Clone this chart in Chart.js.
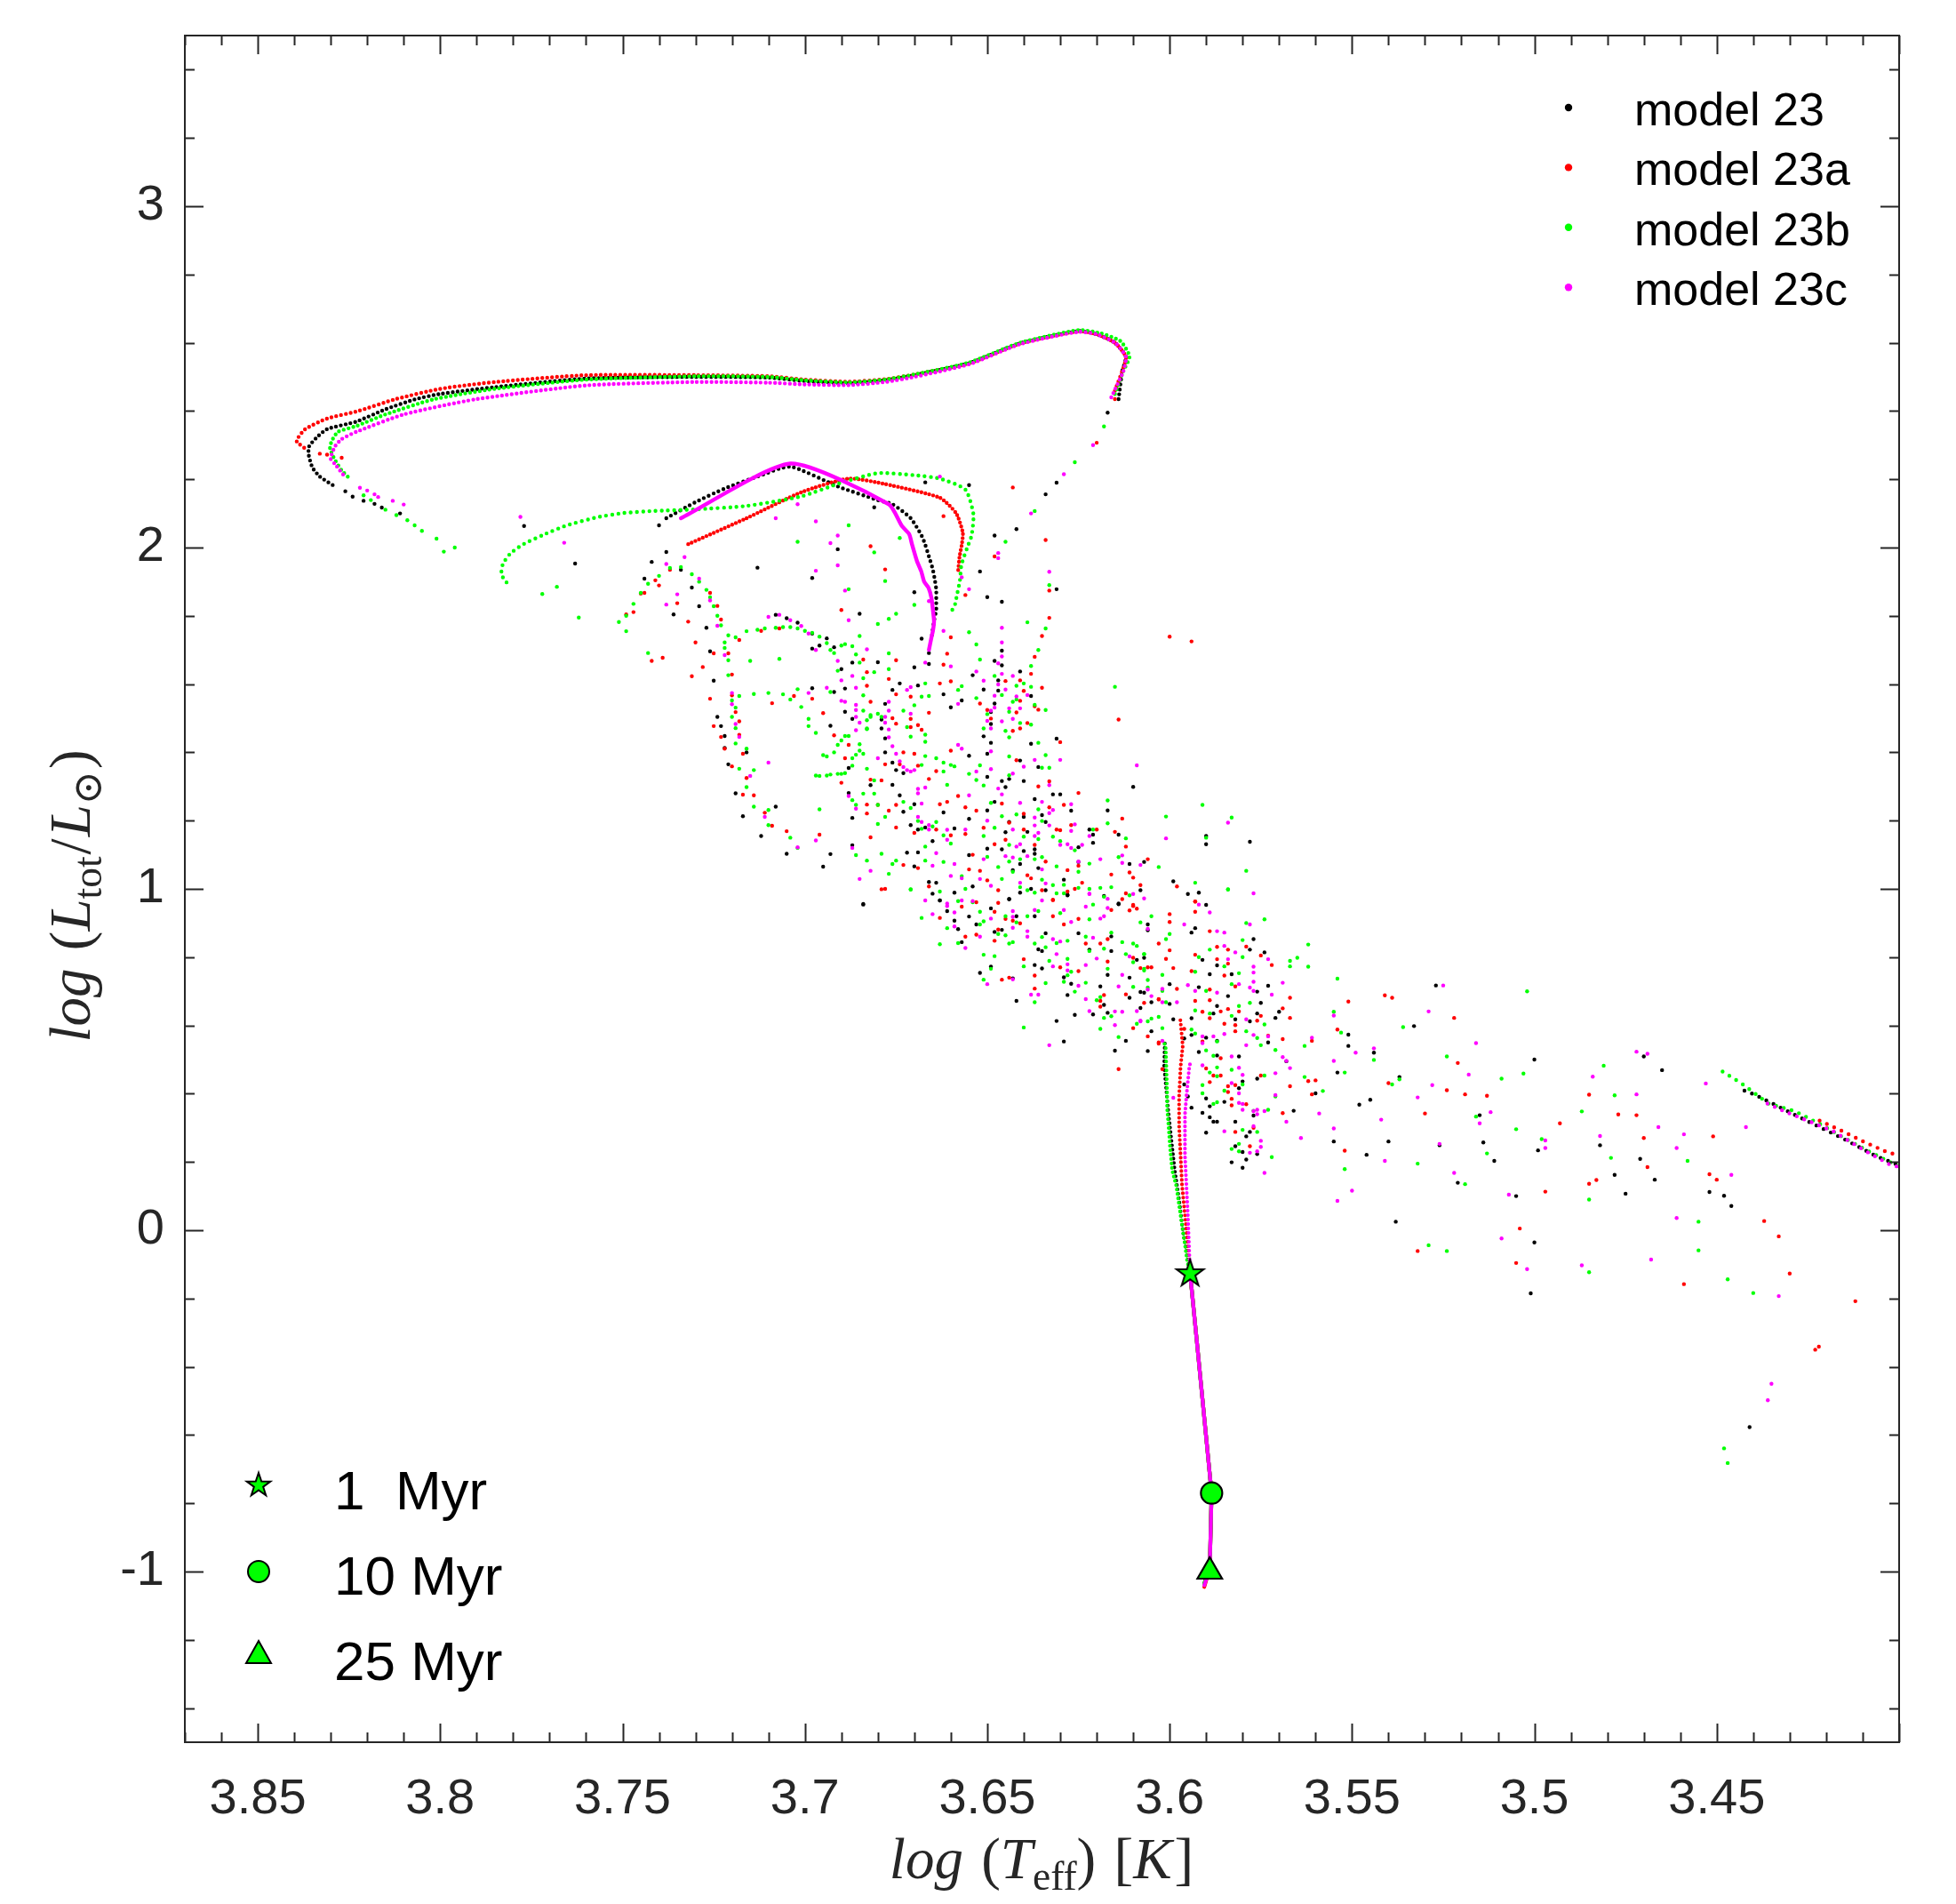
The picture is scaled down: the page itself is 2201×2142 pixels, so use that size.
<!DOCTYPE html>
<html>
<head>
<meta charset="utf-8">
<script src="https://cdn.jsdelivr.net/npm/chart.js@4.4.1/dist/chart.umd.min.js"></script>
<style>
  body { margin: 0; background: #fff; }
  #wrap { width: 2201px; height: 2142px; }
</style>
</head>
<body>
<div id="wrap"><canvas id="hrChart" width="2201" height="2142"></canvas></div>
<script>
var modelNames = ['model 23', 'model 23a', 'model 23b', 'model 23c'];
var modelColors = ['#000000', '#ff0000', '#00ff00', '#ff00ff'];

var xTickValues = [3.45, 3.5, 3.55, 3.6, 3.65, 3.7, 3.75, 3.8, 3.85];
var xTickLabels = ['3.45', '3.5', '3.55', '3.6', '3.65', '3.7', '3.75', '3.8', '3.85'];
var yTickValues = [-1, 0, 1, 2, 3];
var yTickLabels = ['-1', '0', '1', '2', '3'];

var ageLabels = ['1  Myr', '10 Myr', '25 Myr'];
var ageX = [3.5944, 3.5885, 3.589];
var ageY = [-0.125, -0.77, -1.0];

// model 23
var m23Loop = [[3.614,2.435],[3.613,2.517],[3.612,2.559],[3.615,2.600],[3.620,2.625],[3.625,2.634],[3.641,2.598],[3.655,2.540],[3.670,2.505],[3.678,2.490],[3.688,2.481],[3.700,2.488],[3.710,2.498],[3.730,2.500],[3.760,2.495],[3.785,2.470],[3.800,2.450],[3.807,2.434],[3.815,2.405],[3.823,2.369],[3.831,2.347],[3.834,2.321],[3.836,2.295],[3.836,2.269],[3.835,2.234],[3.833,2.208],[3.829,2.180]];
var m23Tent = [[3.738,2.086],[3.730,2.133],[3.722,2.173],[3.713,2.208],[3.704,2.237],[3.691,2.179],[3.680,2.139],[3.676,2.127],[3.671,2.086],[3.668,2.035],[3.667,2.008],[3.666,1.974],[3.665,1.939],[3.6645,1.913],[3.664,1.878],[3.664,1.843],[3.664,1.817],[3.6645,1.791],[3.665,1.756],[3.6653,1.730]];
var m23Pms = [[3.5905,-1.035],[3.589,-0.99],[3.5885,-0.77],[3.5905,-0.55],[3.5925,-0.33],[3.5944,-0.125],[3.5964,0.001],[3.5974,0.088],[3.5986,0.175],[3.5995,0.262],[3.6003,0.340],[3.6009,0.409],[3.6015,0.479],[3.6013,0.557]];
var m23Tail = [[3.4424,0.409],[3.4395,0.397],[3.4284,0.337],[3.4151,0.267],[3.4063,0.217],[3.400,0.190]];
var m23Dots = [[3.617,2.395],[3.631,2.19],[3.826,2.165],[3.824,2.149],[3.821,2.137],[3.818,2.128],[3.816,2.117],[3.811,2.10],[3.777,2.063],[3.763,1.953],[3.740,2.065],[3.681,2.118],[3.667,2.191],[3.655,2.183],[3.634,2.156],[3.642,2.054],
[3.738,1.987],[3.742,1.958],[3.744,1.909],[3.734,1.935],[3.731,1.883],[3.736,1.804],[3.729,1.828],[3.727,1.765],[3.713,1.941],[3.698,1.911],[3.691,1.995],[3.685,1.806],[3.708,1.803],[3.705,1.793],[3.702,1.78],[3.698,1.748],[3.698,1.704],[3.696,1.713],[3.694,1.734],[3.692,1.708],[3.687,1.663],[3.690,1.644],[3.680,1.664],[3.670,1.649],[3.668,1.733],[3.670,1.869],[3.666,1.691],[3.666,1.659],[3.654,1.626],[3.655,1.390],[3.660,1.532],[3.657,1.552],[3.662,1.570],[3.669,1.596],[3.674,1.602],[3.676,1.583],[3.678,1.542],[3.679,1.496],[3.679,1.470],[3.678,1.441],[3.678,1.400],[3.676,1.370],[3.675,1.348],[3.673,1.339],[3.674,1.274],[3.673,1.226],[3.670,1.248],[3.671,1.187],[3.669,1.174],[3.665,1.140],[3.662,1.224],[3.659,1.177],[3.655,1.205],[3.655,1.099],[3.672,1.106],[3.669,1.107],[3.670,1.066],[3.666,1.020],[3.664,1.018],[3.663,0.966],[3.659,0.989],[3.654,1.007],[3.684,0.956],[3.687,1.208],[3.687,1.128],[3.693,1.102],[3.695,1.065],[3.712,1.155],[3.705,1.103],[3.708,1.241],[3.717,1.213],[3.719,1.280],[3.716,1.400],[3.722,1.413],[3.721,1.365],[3.725,1.610],[3.724,1.504],[3.723,1.477],[3.722,1.448],[3.726,1.696],[3.693,1.478],[3.687,1.498],[3.689,1.519],[3.689,1.587],[3.692,1.577],[3.698,1.588],[3.688,1.354],[3.688,1.281],[3.682,1.304],[3.676,1.305],[3.667,1.180],
[3.648,2.035],[3.652,1.930],[3.650,1.855],[3.646,1.841],[3.631,1.878],[3.646,1.698],[3.648,1.668],[3.646,1.655],[3.641,1.637],[3.647,1.611],[3.651,1.584],[3.647,1.581],[3.638,1.565],[3.648,1.543],[3.649,1.518],[3.649,1.483],[3.651,1.447],[3.649,1.428],[3.638,1.425],[3.631,1.440],[3.650,1.396],[3.641,1.376],[3.636,1.357],[3.650,1.328],[3.646,1.316],[3.644,1.322],[3.645,1.298],[3.640,1.316],[3.632,1.277],[3.630,1.277],[3.637,1.263],[3.648,1.255],[3.650,1.230],[3.640,1.211],[3.635,1.216],[3.634,1.196],[3.644,1.196],[3.639,1.167],[3.645,1.166],[3.637,1.116],[3.637,1.103],[3.640,1.111],[3.646,1.116],[3.650,1.118],[3.641,1.073],[3.643,1.055],[3.636,1.061],[3.629,1.027],[3.638,1.000],[3.641,0.989],[3.634,0.996],[3.644,0.970],[3.628,0.981],[3.627,1.229],[3.622,1.174],[3.621,1.135],[3.621,1.159],[3.614,1.159],[3.617,1.230],[3.625,1.122],[3.625,1.079],[3.611,1.073],[3.607,1.079],[3.610,1.299],[3.614,0.957],[3.608,0.996],[3.599,1.022],[3.590,1.155],[3.590,1.131],[3.578,1.138],
[3.684,0.954],[3.665,0.986],[3.663,0.966],[3.661,0.935],[3.659,0.907],[3.658,0.882],[3.655,0.919],[3.657,0.844],[3.653,0.896],[3.649,0.943],[3.649,0.772],[3.652,0.754],[3.648,0.874],[3.646,0.880],[3.644,0.970],[3.642,0.920],[3.643,0.738],[3.642,0.672],[3.637,0.920],[3.636,0.823],[3.635,0.818],[3.637,0.777],[3.635,0.767],[3.634,0.870],[3.629,0.741],[3.628,0.689],[3.631,0.613],[3.629,0.553],[3.627,0.722],[3.626,0.631],[3.628,0.983],[3.625,0.870],[3.622,0.822],[3.621,0.632],[3.619,0.714],[3.617,0.637],[3.618,0.660],[3.617,0.748],[3.616,0.818],[3.616,0.861],[3.614,0.955],[3.611,0.740],[3.611,0.681],[3.612,0.555],[3.615,0.526],[3.609,0.792],[3.608,0.651],[3.607,0.798],[3.608,0.698],[3.618,0.979],
[3.595,0.985],[3.592,0.989],[3.590,0.953],[3.606,0.896],[3.606,0.879],[3.594,0.872],[3.593,0.885],[3.591,0.792],[3.589,0.750],[3.587,0.776],[3.583,0.750],[3.577,0.853],[3.578,0.822],[3.574,0.814],[3.600,0.721],[3.607,0.696],[3.605,0.668],[3.600,0.663],[3.592,0.712],[3.584,0.686],[3.576,0.699],[3.575,0.666],[3.573,0.716],[3.587,0.657],[3.599,0.618],[3.594,0.621],[3.588,0.635],[3.582,0.618],[3.578,0.612],[3.576,0.635],[3.571,0.622],[3.570,0.640],[3.605,0.583],[3.594,0.572],[3.596,0.562],[3.590,0.564],[3.587,0.555],[3.573,0.550],[3.606,0.525],[3.592,0.522],[3.587,0.512],[3.581,0.509],[3.568,0.495],[3.551,0.573],[3.551,0.540],[3.544,0.520],[3.537,0.449],[3.554,0.462],[3.560,0.401],[3.548,0.368],[3.545,0.382],[3.566,0.350],[3.555,0.260],[3.546,0.221],[3.540,0.260],[3.538,0.025],[3.596,0.427],[3.595,0.392],[3.594,0.359],[3.591,0.344],[3.590,0.386],[3.589,0.363],[3.589,0.331],[3.588,0.318],[3.587,0.318],[3.590,0.286],[3.585,0.376],[3.582,0.318],[3.581,0.416],[3.580,0.436],[3.577,0.336],[3.578,0.288],[3.579,0.275],[3.582,0.246],[3.580,0.229],[3.576,0.223],[3.579,0.207],[3.580,0.183],[3.583,0.199],[3.576,0.444],
[3.527,0.717],[3.533,0.598],[3.500,0.500],[3.470,0.509],[3.465,0.469],[3.515,0.337],[3.514,0.257],[3.511,0.203],[3.521,0.139],[3.526,0.249],[3.499,0.234],[3.505,0.100],[3.500,-0.036],[3.501,-0.185],[3.482,0.249],[3.478,0.162],[3.475,0.107],[3.471,0.209],[3.467,0.148],[3.452,0.112],[3.448,0.101],[3.446,0.071],[3.441,-0.577]];

// model 23a
var m23aLoop = [[3.615,2.460],[3.613,2.517],[3.612,2.559],[3.615,2.600],[3.620,2.625],[3.625,2.634],[3.641,2.598],[3.655,2.540],[3.670,2.507],[3.678,2.493],[3.688,2.486],[3.700,2.492],[3.710,2.502],[3.730,2.505],[3.760,2.505],[3.785,2.485],[3.800,2.465],[3.8125,2.434],[3.8225,2.400],[3.831,2.378],[3.837,2.347],[3.839,2.321],[3.8393,2.310],[3.837,2.290]];
var m23aTent = [[3.732,2.010],[3.716,2.086],[3.701,2.162],[3.688,2.202],[3.678,2.186],[3.663,2.146],[3.6585,2.100],[3.6567,2.043],[3.657,2.008],[3.6576,1.974],[3.658,1.930]];
var m23aPms = [[3.5905,-1.045],[3.589,-0.99],[3.5885,-0.77],[3.5905,-0.55],[3.5925,-0.33],[3.5944,-0.125],[3.595,-0.043],[3.5958,0.044],[3.5966,0.131],[3.597,0.218],[3.5974,0.305],[3.5974,0.392],[3.597,0.479],[3.5964,0.540],[3.5971,0.620]];
var m23aTail = [[3.4218,0.321],[3.4159,0.292],[3.410,0.261],[3.404,0.232],[3.400,0.218]];
var m23aDots = [[3.620,2.307],[3.615,2.435],[3.833,2.275],[3.831,2.272],[3.827,2.263],[3.662,2.092],[3.643,2.176],
[3.737,1.935],[3.740,1.889],[3.741,1.904],[3.744,1.867],[3.745,1.865],[3.749,1.804],[3.747,1.811],[3.735,1.837],[3.732,1.783],[3.726,1.867],[3.724,1.829],[3.723,1.789],[3.730,1.722],[3.725,1.690],[3.721,1.690],[3.718,1.729],[3.728,1.650],[3.731,1.623],[3.720,1.628],[3.742,1.668],[3.739,1.677],[3.726,1.557],[3.720,1.567],[3.719,1.518],[3.718,1.491],[3.725,1.477],[3.723,1.445],[3.718,1.451],[3.722,1.411],[3.717,1.396],[3.720,1.359],[3.716,1.325],[3.717,1.276],[3.714,1.274],[3.711,1.223],[3.709,1.185],[3.705,1.169],[3.696,1.159],[3.712,1.756],[3.707,1.763],[3.703,1.565],[3.698,1.557],[3.709,1.544],[3.695,1.515],[3.692,1.450],[3.689,1.383],[3.690,1.311],[3.688,1.422],[3.684,1.672],[3.683,1.635],[3.683,1.595],[3.682,1.548],[3.678,1.936],[3.682,2.004],[3.690,1.817],[3.677,1.615],[3.675,1.570],[3.676,1.500],[3.675,1.484],[3.671,1.498],[3.671,1.474],[3.669,1.480],[3.668,1.466],[3.666,1.516],[3.671,1.563],[3.663,1.602],[3.662,1.657],[3.675,1.670],[3.660,1.608],[3.656,1.861],[3.660,1.737],[3.661,1.689],[3.660,1.405],[3.664,1.345],[3.669,1.361],[3.670,1.396],[3.673,1.400],[3.674,1.365],[3.678,1.365],[3.679,1.318],[3.682,1.320],[3.677,1.229],[3.680,1.246],[3.683,1.247],[3.683,1.221],[3.675,1.246],[3.666,1.322],[3.663,1.248],[3.661,1.255],[3.658,1.272],[3.656,1.239],[3.653,1.229],[3.656,1.161],[3.660,1.157],[3.664,1.174],[3.670,1.164],[3.675,1.180],[3.673,1.070],[3.669,1.061],[3.655,1.057],[3.654,1.100],[3.666,1.007],[3.678,1.000],[3.682,1.151],
[3.634,2.022],[3.648,1.974],[3.633,1.874],[3.633,1.794],[3.635,1.741],[3.637,1.680],[3.638,1.630],[3.645,1.609],[3.641,1.611],[3.640,1.580],[3.635,1.589],[3.652,1.543],[3.650,1.524],[3.649,1.499],[3.641,1.551],[3.642,1.517],[3.637,1.535],[3.636,1.525],[3.639,1.486],[3.641,1.470],[3.643,1.463],[3.630,1.430],[3.642,1.377],[3.636,1.300],[3.633,1.315],[3.600,1.739],[3.594,1.725],[3.614,1.496],[3.625,1.281],[3.629,1.246],[3.633,1.239],[3.640,1.220],[3.646,1.250],[3.644,1.194],[3.651,1.179],[3.640,1.174],[3.645,1.144],[3.648,1.131],[3.637,1.129],[3.631,1.174],[3.630,1.172],[3.627,1.187],[3.620,1.174],[3.615,1.167],[3.613,1.206],[3.612,1.124],[3.606,1.087],[3.625,1.068],[3.634,1.080],[3.628,1.055],[3.616,1.042],[3.611,1.048],[3.610,1.033],[3.608,1.011],[3.612,0.987],[3.639,1.040],[3.638,1.031],[3.650,1.025],[3.652,1.053],[3.647,0.996],[3.647,0.959],[3.628,0.992],[3.626,1.000],[3.624,1.018],[3.632,0.968],[3.598,1.007],[3.593,0.963],[3.610,0.953],
[3.679,0.999],[3.663,0.915],[3.657,0.948],[3.656,0.860],[3.653,0.866],[3.653,0.961],[3.648,0.848],[3.648,0.933],[3.647,0.881],[3.645,0.912],[3.643,0.907],[3.641,0.899],[3.640,0.794],[3.637,0.746],[3.637,0.708],[3.646,0.734],[3.644,0.740],[3.635,0.996],[3.632,0.967],[3.632,0.920],[3.629,0.896],[3.630,0.770],[3.625,0.912],[3.625,0.759],[3.623,0.840],[3.619,0.840],[3.618,0.689],[3.619,0.672],[3.619,0.655],[3.617,0.787],[3.617,0.853],[3.616,0.938],[3.613,0.970],[3.611,0.937],[3.610,0.950],[3.609,0.942],[3.610,0.798],[3.608,0.768],[3.606,0.770],[3.603,0.840],[3.612,0.691],[3.610,0.592],[3.607,0.666],[3.606,0.568],[3.603,0.550],[3.603,0.676],[3.614,0.472],[3.602,0.472],
[3.593,0.963],[3.593,0.933],[3.600,0.926],[3.600,0.903],[3.600,0.820],[3.601,0.795],[3.605,0.770],[3.599,0.768],[3.593,0.807],[3.594,0.759],[3.589,0.876],[3.587,0.794],[3.587,0.830],[3.584,0.822],[3.584,0.781],[3.585,0.746],[3.579,0.831],[3.575,0.805],[3.572,0.777],[3.582,0.714],[3.589,0.705],[3.598,0.707],[3.593,0.672],[3.589,0.674],[3.584,0.648],[3.581,0.641],[3.603,0.677],[3.596,0.590],[3.591,0.640],[3.586,0.641],[3.589,0.621],[3.585,0.605],[3.582,0.601],[3.582,0.583],[3.576,0.614],[3.575,0.628],[3.573,0.570],[3.569,0.560],[3.569,0.650],[3.567,0.681],[3.567,0.622],[3.603,0.547],[3.591,0.553],[3.586,0.504],[3.590,0.474],[3.588,0.453],[3.586,0.453],[3.584,0.422],[3.582,0.425],[3.584,0.405],[3.583,0.385],[3.583,0.366],[3.579,0.369],[3.582,0.288],[3.589,0.434],[3.575,0.453],[3.577,0.300],[3.578,0.246],[3.561,0.555],[3.562,0.437],[3.560,0.439],[3.561,0.398],[3.567,0.422],[3.569,0.343],[3.551,0.670],[3.554,0.588],[3.541,0.688],[3.539,0.681],[3.540,0.431],[3.552,0.233],
[3.522,0.622],[3.521,0.490],[3.524,0.410],[3.530,0.342],[3.519,0.398],[3.513,0.394],[3.485,0.397],[3.493,0.313],[3.477,0.339],[3.472,0.337],[3.470,0.270],[3.497,0.113],[3.504,0.005],[3.505,-0.096],[3.485,0.136],[3.483,0.147],[3.469,0.185],[3.459,-0.158],[3.451,0.275],[3.452,0.164],[3.450,0.148],[3.437,0.027],[3.433,-0.018],[3.430,-0.127],[3.412,-0.208],[3.423,-0.350],[3.422,-0.341],[3.532,-0.061]];

// model 23b
var m23bLoop = [[3.615,2.450],[3.6127,2.517],[3.611,2.560],[3.6135,2.605],[3.619,2.628],[3.625,2.637],[3.641,2.600],[3.655,2.542],[3.670,2.507],[3.678,2.492],[3.688,2.484],[3.700,2.490],[3.710,2.500],[3.730,2.502],[3.760,2.492],[3.785,2.465],[3.8019,2.434],[3.815,2.390],[3.823,2.356],[3.828,2.339],[3.8297,2.313],[3.8302,2.291],[3.829,2.260],[3.827,2.226],[3.8246,2.200]];
var m23bTent = [[3.7818,1.898],[3.7832,1.921],[3.7828,1.952],[3.7808,1.982],[3.7775,2.008],[3.7718,2.037],[3.7653,2.065],[3.7568,2.089],[3.7499,2.101],[3.7418,2.107],[3.730,2.112],[3.716,2.122],[3.701,2.150],[3.690,2.190],[3.680,2.218],[3.670,2.212],[3.663,2.202],[3.656,2.170],[3.6538,2.098],[3.6543,2.035],[3.6555,2.000],[3.6571,1.948],[3.6575,1.904],[3.6584,1.856],[3.6588,1.835],[3.660,1.809]];
var m23bPms = [[3.5905,-1.035],[3.589,-0.99],[3.5885,-0.77],[3.5905,-0.55],[3.5925,-0.33],[3.5944,-0.125],[3.5952,-0.090],[3.5958,-0.043],[3.597,0.044],[3.5982,0.131],[3.5993,0.175],[3.5999,0.244],[3.6003,0.305],[3.6007,0.357],[3.6007,0.409],[3.6009,0.479],[3.6011,0.540],[3.6015,0.548]];
var m23bTail = [[3.4484,0.465],[3.4432,0.430],[3.4358,0.371],[3.4284,0.348],[3.421,0.307],[3.415,0.270],[3.4085,0.232],[3.400,0.186]];
var m23bDots = [[3.618,2.355],[3.626,2.25],[3.821,2.153],[3.819,2.139],[3.815,2.111],[3.812,2.095],[3.809,2.08],[3.807,2.065],[3.805,2.049],[3.801,2.026],[3.799,1.988],[3.796,2.0],[3.772,1.864],[3.768,1.885],[3.762,1.795],[3.751,1.782],[3.688,2.065],[3.637,2.107],
[3.702,2.017],[3.681,1.986],[3.674,2.028],[3.678,1.902],[3.688,1.878],[3.675,1.806],[3.677,1.791],[3.680,1.776],[3.670,1.832],[3.655,1.752],[3.653,1.716],[3.653,1.559],[3.658,1.583],[3.657,1.594],[3.660,1.363],[3.659,1.359],[3.655,1.337],[3.653,1.319],[3.662,1.370],[3.662,1.344],[3.661,1.305],[3.664,1.383],[3.667,1.389],[3.668,1.363],[3.666,1.565],[3.667,1.602],[3.668,1.563],[3.670,1.538],[3.673,1.522],[3.672,1.474],[3.671,1.446],[3.667,1.452],[3.667,1.431],[3.677,1.644],[3.677,1.690],[3.681,1.635],[3.685,1.741],[3.684,1.617],[3.684,1.567],[3.684,1.522],[3.682,1.504],[3.683,1.470],[3.685,1.424],[3.684,1.396],[3.683,1.352],[3.681,1.318],[3.681,1.279],[3.684,1.279],[3.687,1.260],[3.686,1.246],[3.680,1.246],[3.680,1.190],[3.678,1.211],[3.673,1.255],[3.671,1.237],[3.669,1.199],[3.668,1.176],[3.665,1.183],[3.664,1.196],[3.662,1.157],[3.667,1.124],[3.660,1.133],[3.657,1.037],[3.662,1.079],[3.667,1.083],[3.675,1.083],[3.676,1.073],[3.679,1.103],[3.683,1.083],[3.686,1.099],[3.671,0.999],[3.656,1.000],[3.677,1.044],[3.696,1.233],[3.691,1.639],[3.693,1.577],[3.699,1.498],[3.699,1.477],[3.697,1.457],[3.701,1.533],[3.704,1.555],[3.702,1.585],[3.706,1.570],[3.710,1.574],[3.714,1.571],[3.718,1.565],[3.720,1.552],[3.719,1.531],[3.720,1.504],[3.719,1.471],[3.719,1.426],[3.718,1.352],[3.716,1.298],[3.714,1.241],[3.710,1.231],[3.710,1.187],[3.704,1.150],[3.702,1.120],[3.714,1.348],[3.716,1.411],
[3.719,1.737],[3.716,1.755],[3.713,1.759],[3.711,1.763],[3.708,1.765],[3.706,1.767],[3.704,1.767],[3.702,1.763],[3.700,1.756],[3.698,1.750],[3.696,1.739],[3.694,1.720],[3.693,1.700],[3.692,1.691],[3.690,1.713],[3.689,1.717],[3.687,1.711],[3.686,1.687],[3.685,1.663],
[3.721,1.743],[3.722,1.722],[3.722,1.706],[3.721,1.670],[3.721,1.626],[3.723,1.772],[3.724,1.800],[3.725,1.828],[3.726,1.854],[3.727,1.876],[3.729,1.900],[3.731,1.922],[3.734,1.943],[3.737,1.940],[3.740,1.917],[3.743,1.894],[3.745,1.867],[3.747,1.835],[3.749,1.800],[3.749,1.755],
[3.697,1.332],[3.696,1.331],[3.694,1.332],[3.693,1.335],[3.691,1.337],[3.690,1.337],[3.689,1.339],[3.687,1.361],[3.687,1.383],[3.686,1.393],[3.685,1.405],[3.695,1.392],[3.694,1.388],[3.692,1.400],[3.691,1.422],[3.690,1.435],[3.689,1.448],[3.688,1.448],[3.683,1.468],[3.683,1.494],[3.682,1.509],[3.680,1.513],[3.679,1.504],[3.707,1.674],[3.715,1.668],[3.743,1.691],
[3.645,2.017],[3.633,1.890],[3.639,1.781],[3.634,1.763],[3.636,1.700],[3.638,1.653],[3.652,1.672],[3.648,1.624],[3.642,1.595],[3.640,1.602],[3.638,1.592],[3.646,1.568],[3.643,1.548],[3.642,1.555],[3.644,1.519],[3.637,1.539],[3.634,1.524],[3.650,1.512],[3.651,1.470],[3.645,1.463],[3.644,1.444],[3.641,1.486],[3.638,1.481],[3.615,1.592],[3.636,1.428],[3.634,1.392],[3.644,1.388],[3.635,1.355],[3.633,1.355],[3.652,1.362],[3.644,1.333],[3.651,1.303],[3.649,1.252],[3.646,1.213],[3.642,1.218],[3.636,1.233],[3.635,1.199],[3.640,1.153],[3.636,1.146],[3.651,1.155],[3.648,1.179],[3.644,1.129],[3.650,1.094],[3.644,1.080],[3.641,1.087],[3.637,1.087],[3.635,1.093],[3.631,1.066],[3.630,1.140],[3.632,1.153],[3.626,1.113],[3.622,1.074],[3.625,1.050],[3.647,1.064],[3.643,1.050],[3.646,1.029],[3.641,1.005],[3.639,0.996],[3.637,0.989],[3.632,1.011],[3.635,1.027],[3.631,0.987],[3.629,1.012],[3.629,0.987],[3.625,1.003],[3.622,1.000],[3.619,1.003],[3.621,1.174],[3.617,1.192],[3.617,1.259],[3.612,1.148],[3.614,1.093],[3.616,1.005],[3.621,0.954],[3.618,0.977],[3.611,0.981],[3.603,1.064],[3.601,1.212],[3.591,1.246],[3.590,1.150],[3.593,1.018],[3.584,0.999],[3.583,1.209],[3.579,1.053],
[3.671,0.998],[3.668,0.915],[3.663,0.992],[3.663,0.838],[3.661,0.885],[3.658,0.964],[3.658,0.841],[3.654,0.961],[3.652,0.896],[3.651,0.905],[3.652,0.933],[3.651,0.807],[3.649,0.766],[3.648,0.803],[3.651,0.734],[3.647,0.868],[3.645,0.864],[3.645,0.920],[3.644,0.840],[3.643,0.844],[3.642,0.902],[3.640,0.773],[3.639,0.920],[3.637,0.840],[3.637,0.668],[3.636,0.935],[3.635,0.859],[3.634,0.829],[3.634,0.724],[3.633,0.789],[3.631,0.841],[3.630,0.929],[3.629,0.728],[3.628,0.795],[3.628,0.747],[3.628,0.848],[3.627,0.757],[3.626,0.699],[3.623,0.860],[3.623,0.725],[3.622,0.911],[3.622,0.818],[3.620,0.674],[3.619,0.590],[3.618,0.622],[3.618,0.825],[3.617,0.766],[3.616,0.627],[3.616,0.872],[3.614,0.566],[3.613,0.844],[3.612,0.809],[3.610,0.840],[3.610,0.713],[3.610,0.785],[3.609,0.833],[3.607,0.766],[3.607,0.809],[3.606,0.711],[3.606,0.612],[3.609,0.605],[3.619,0.683],[3.640,0.594],
[3.605,0.920],[3.608,0.902],[3.600,0.868],[3.601,0.853],[3.607,0.809],[3.607,0.761],[3.602,0.748],[3.606,0.733],[3.602,0.701],[3.601,0.668],[3.603,0.625],[3.605,0.620],[3.602,0.592],[3.593,0.757],[3.592,0.800],[3.589,0.822],[3.585,0.773],[3.584,0.998],[3.579,0.900],[3.580,0.800],[3.580,0.850],[3.574,0.911],[3.581,0.753],[3.583,0.721],[3.578,0.666],[3.581,0.657],[3.583,0.628],[3.590,0.701],[3.589,0.635],[3.593,0.644],[3.594,0.588],[3.593,0.576],[3.587,0.553],[3.579,0.583],[3.576,0.563],[3.574,0.603],[3.575,0.542],[3.571,0.528],[3.590,0.527],[3.588,0.511],[3.589,0.462],[3.587,0.477],[3.583,0.470],[3.587,0.451],[3.591,0.425],[3.591,0.401],[3.588,0.370],[3.587,0.375],[3.585,0.409],[3.580,0.427],[3.577,0.350],[3.576,0.288],[3.580,0.294],[3.581,0.253],[3.583,0.238],[3.581,0.231],[3.572,0.214],[3.574,0.453],[3.573,0.353],[3.571,0.392],[3.563,0.449],[3.563,0.540],[3.558,0.408],[3.554,0.737],[3.562,0.837],[3.562,0.772],[3.567,0.773],[3.565,0.798],[3.567,0.789],[3.555,0.640],[3.553,0.579],[3.552,0.462],[3.544,0.499],[3.552,0.179],[3.539,0.427],[3.537,0.442],[3.536,0.595],
[3.502,0.700],[3.524,0.509],[3.516,0.333],[3.509,0.444],[3.503,0.459],[3.487,0.348],[3.478,0.395],[3.513,0.225],[3.519,0.135],[3.532,0.195],[3.498,0.267],[3.505,0.296],[3.529,-0.044],[3.524,-0.061],[3.485,0.090],[3.479,0.212],[3.455,0.025],[3.455,-0.059],[3.458,0.203],[3.481,0.482],[3.447,-0.144],[3.440,-0.184],[3.448,-0.639],[3.447,-0.682],[3.485,-0.123]];

// model 23c
var m23cLoop = [[3.616,2.440],[3.6127,2.517],[3.612,2.559],[3.615,2.600],[3.620,2.625],[3.625,2.632],[3.641,2.596],[3.655,2.537],[3.670,2.500],[3.678,2.485],[3.688,2.476],[3.700,2.478],[3.710,2.483],[3.730,2.485],[3.760,2.475],[3.7905,2.434],[3.810,2.390],[3.823,2.339],[3.8271,2.317],[3.8289,2.295],[3.830,2.260],[3.8287,2.243],[3.8259,2.204]];
var m23cTent = [[3.734,2.086],[3.704,2.246],[3.677,2.127],[3.6734,2.063],[3.6714,2.039],[3.6706,2.008],[3.6693,1.961],[3.6681,1.930],[3.6673,1.900],[3.6661,1.882],[3.6653,1.852],[3.6649,1.817],[3.6646,1.783],[3.6649,1.756],[3.6653,1.737],[3.666,1.700]];
var m23cPms = [[3.5905,-1.04],[3.589,-0.99],[3.5885,-0.77],[3.5905,-0.55],[3.5925,-0.33],[3.5944,-0.125],[3.5950,0.044],[3.5958,0.218],[3.5958,0.340],[3.5954,0.392],[3.5946,0.479],[3.5942,0.496]];
var m23cTail = [[3.4361,0.371],[3.4314,0.348],[3.4232,0.313],[3.4181,0.290],[3.4092,0.232],[3.4026,0.193],[3.400,0.185]];
var m23cDots = [[3.621,2.30],[3.629,2.215],[3.822,2.175],[3.820,2.167],[3.818,2.156],[3.817,2.148],[3.813,2.137],[3.810,2.126],[3.778,2.09],[3.766,2.014],[3.702,2.127],[3.708,2.086],[3.697,2.077],[3.663,2.208],[3.638,2.10],
[3.691,2.035],[3.693,2.013],[3.697,1.932],[3.691,1.948],[3.689,1.874],[3.688,1.787],[3.733,1.972],[3.738,1.952],[3.735,1.863],[3.738,1.833],[3.729,1.909],[3.726,1.845],[3.724,1.771],[3.722,1.685],[3.710,1.797],[3.707,1.803],[3.704,1.787],[3.701,1.770],[3.699,1.748],[3.697,1.700],[3.691,1.668],[3.690,1.611],[3.694,1.589],[3.699,1.574],[3.690,1.551],[3.689,1.548],[3.686,1.539],[3.686,1.524],[3.686,1.504],[3.685,1.487],[3.686,1.465],[3.683,1.702],[3.687,1.624],[3.686,1.589],[3.720,1.574],[3.720,1.541],[3.719,1.483],[3.718,1.445],[3.710,1.370],[3.715,1.331],[3.711,1.211],[3.702,1.122],[3.697,1.142],[3.688,1.272],[3.686,1.235],[3.687,1.120],[3.682,1.053],[3.685,1.029],[3.680,1.383],[3.677,1.548],[3.677,1.522],
[3.678,1.504],[3.678,1.487],[3.677,1.467],[3.677,1.444],[3.676,1.418],[3.675,1.396],[3.674,1.374],[3.673,1.357],[3.672,1.348],[3.671,1.344],[3.670,1.348],
[3.672,1.583],[3.671,1.591],[3.671,1.513],[3.667,1.663],[3.666,1.843],[3.662,1.756],[3.660,1.652],[3.657,1.913],[3.655,1.878],[3.653,1.637],[3.658,1.542],[3.657,1.411],[3.658,1.422],[3.653,1.344],[3.655,1.274],[3.656,1.174],[3.661,1.173],[3.661,1.144],[3.666,1.174],[3.666,1.187],[3.668,1.196],[3.669,1.211],[3.668,1.250],[3.669,1.280],[3.669,1.293],[3.667,1.297],[3.664,1.105],[3.659,1.073],[3.657,1.031],[3.660,1.038],[3.665,1.068],[3.667,0.966],[3.661,0.957],
[3.647,1.984],[3.647,1.969],[3.633,1.929],[3.646,1.765],[3.646,1.722],[3.646,1.681],[3.647,1.661],[3.646,1.630],[3.643,1.624],[3.651,1.610],[3.647,1.599],[3.645,1.584],[3.648,1.566],[3.642,1.564],[3.639,1.568],[3.648,1.531],[3.649,1.522],[3.644,1.529],[3.641,1.529],[3.650,1.492],[3.646,1.491],[3.643,1.498],[3.649,1.470],[3.649,1.403],[3.637,1.378],[3.630,1.378],[3.640,1.358],[3.649,1.351],[3.643,1.338],[3.633,1.304],[3.647,1.294],[3.646,1.277],[3.635,1.255],[3.641,1.252],[3.627,1.248],[3.632,1.231],[3.633,1.222],[3.637,1.209],[3.650,1.200],[3.633,1.186],[3.637,1.186],[3.643,1.174],[3.636,1.164],[3.627,1.170],[3.626,1.189],[3.637,1.155],[3.630,1.129],[3.628,1.131],[3.627,1.120],[3.624,1.129],[3.622,1.155],[3.642,1.124],[3.641,1.131],[3.639,1.096],[3.645,1.096],[3.643,1.092],[3.651,1.087],[3.635,1.057],[3.625,1.080],[3.619,1.087],[3.613,1.098],[3.613,1.076],[3.608,1.070],[3.652,1.029],[3.649,1.009],[3.641,1.018],[3.634,1.016],[3.622,0.986],[3.617,0.971],[3.610,0.985],[3.609,1.362],[3.601,1.148],[3.584,1.194],[3.577,0.987],[3.592,0.954],[3.607,0.972],
[3.665,0.926],[3.661,0.950],[3.659,0.931],[3.659,0.890],[3.657,0.966],[3.656,0.827],[3.654,0.964],[3.652,0.860],[3.650,0.721],[3.649,0.913],[3.643,0.735],[3.643,0.918],[3.643,0.935],[3.643,0.886],[3.639,0.860],[3.639,0.876],[3.638,0.690],[3.636,0.690],[3.637,0.938],[3.635,0.966],[3.633,0.542],[3.632,0.853],[3.632,0.773],[3.631,0.809],[3.630,0.846],[3.629,0.938],[3.628,0.779],[3.628,0.761],[3.627,0.903],[3.625,0.716],[3.623,0.777],[3.623,0.677],[3.623,0.948],[3.622,0.642],[3.622,0.985],[3.621,0.857],[3.620,0.796],[3.619,0.913],[3.618,0.920],[3.617,0.944],[3.615,0.641],[3.615,0.601],[3.614,0.714],[3.613,0.748],[3.613,0.640],[3.611,0.802],[3.609,0.642],[3.608,0.614],[3.606,0.883],[3.605,0.686],[3.602,0.707],[3.602,0.555],[3.599,0.388],
[3.589,0.931],[3.596,0.896],[3.587,0.876],[3.585,0.872],[3.578,0.896],[3.585,0.833],[3.582,0.814],[3.584,0.794],[3.577,0.772],[3.577,0.755],[3.573,0.794],[3.569,0.725],[3.577,0.728],[3.578,0.711],[3.577,0.701],[3.577,0.572],[3.572,0.690],[3.598,0.668],[3.602,0.668],[3.606,0.705],[3.608,0.612],[3.595,0.718],[3.593,0.701],[3.587,0.696],[3.581,0.721],[3.579,0.618],[3.591,0.568],[3.591,0.548],[3.588,0.568],[3.585,0.575],[3.573,0.568],[3.579,0.542],[3.583,0.509],[3.581,0.476],[3.583,0.431],[3.580,0.455],[3.581,0.401],[3.581,0.373],[3.580,0.370],[3.580,0.353],[3.577,0.349],[3.576,0.353],[3.574,0.349],[3.576,0.340],[3.577,0.305],[3.575,0.262],[3.575,0.244],[3.576,0.231],[3.578,0.227],[3.574,0.168],[3.585,0.290],[3.591,0.483],[3.571,0.460],[3.568,0.496],[3.567,0.475],[3.569,0.507],[3.571,0.396],[3.568,0.318],[3.564,0.270],[3.559,0.342],[3.555,0.298],[3.554,0.086],[3.550,0.116],[3.555,0.496],[3.561,0.564],[3.549,0.520],[3.555,0.629],[3.544,0.533],[3.542,0.324],[3.541,0.203],
[3.525,0.717],[3.529,0.641],[3.516,0.548],[3.472,0.523],[3.469,0.517],[3.518,0.456],[3.528,0.425],[3.532,0.389],[3.512,0.346],[3.484,0.450],[3.472,0.398],[3.466,0.302],[3.482,0.276],[3.515,0.313],[3.522,0.168],[3.526,0.253],[3.507,0.104],[3.497,0.263],[3.497,0.241],[3.509,-0.024],[3.502,-0.114],[3.487,-0.103],[3.468,-0.086],[3.461,0.036],[3.461,0.241],[3.459,0.281],[3.446,0.162],[3.442,0.302],[3.433,-0.193],[3.435,-0.450],[3.436,-0.498],[3.453,0.430]];

var modelDots = [m23Dots, m23aDots, m23bDots, m23cDots];
var modelLoops = [m23Loop, m23aLoop, m23bLoop, m23cLoop];
var modelTents = [m23Tent, m23aTent, m23bTent, m23cTent];
var modelPms = [m23Pms, m23aPms, m23bPms, m23cPms];
var modelTails = [m23Tail, m23aTail, m23bTail, m23cTail];
var tentDash = [[0, 6], [0, 4.5], [0, 7], []];

var tickColor = '#262626';
var sansFont = '"Liberation Sans", Arial, Helvetica, sans-serif';
var serifFont = '"Liberation Serif", "DejaVu Serif", serif';

function toPoints(arr) {
    return arr.map(function(p) { return {x: p[0], y: p[1]}; });
}

function starPath(g, cx, cy, R) {
    g.beginPath();
    for (var i = 0; i < 10; i++) {
        var rad = i % 2 ? R * 0.39 : R;
        var ang = -Math.PI / 2 + i * Math.PI / 5;
        g.lineTo(cx + rad * Math.cos(ang), cy + rad * Math.sin(ang));
    }
    g.closePath();
}

function makeStar(R) {
    var c = document.createElement('canvas');
    var s = Math.ceil(2 * R + 6);
    c.width = s;
    c.height = s;
    var g = c.getContext('2d');
    starPath(g, s / 2, s / 2 + 1, R);
    g.fillStyle = '#00ff00';
    g.fill();
    g.lineWidth = 2;
    g.lineJoin = 'miter';
    g.strokeStyle = '#000';
    g.stroke();
    return c;
}

var datasets = [];
for (var m = 0; m < 4; m++) {
    var order = 4 - m;
    var col = modelColors[m];
    datasets.push({
        label: modelNames[m], data: toPoints(modelDots[m]), order: order,
        pointRadius: 2.2, pointBorderWidth: 0, backgroundColor: col, borderColor: col
    });
    datasets.push({
        data: toPoints(modelLoops[m]), order: order, showLine: true, pointRadius: 0,
        borderColor: col, borderWidth: 4.4, borderDash: [0, 5.5], borderCapStyle: 'round', tension: 0.2
    });
    datasets.push({
        data: toPoints(modelTents[m]), order: order, showLine: true, pointRadius: 0,
        borderColor: col, borderWidth: 4.4, borderDash: tentDash[m], borderCapStyle: 'round', tension: 0.2
    });
    datasets.push({
        data: toPoints(modelPms[m]), order: order, showLine: true, pointRadius: 0,
        borderColor: col, borderWidth: 4.2, borderDash: [], borderCapStyle: 'round', tension: 0,
        segment: {
            borderDash: function(ctx) { return ctx.p0.parsed.y >= -0.13 ? [0, 5] : undefined; }
        }
    });
    datasets.push({
        data: toPoints(modelTails[m]), order: order, showLine: true, pointRadius: 0,
        borderColor: col, borderWidth: 4.4, borderDash: [0, 9], borderCapStyle: 'round', tension: 0
    });
}

var starImg = makeStar(16);
datasets.push({
    data: ageX.map(function(x, i) { return {x: x, y: ageY[i]}; }),
    order: 0,
    pointStyle: [starImg, 'circle', 'triangle'],
    pointRadius: [16, 12, 16],
    pointBackgroundColor: '#00ff00',
    pointBorderColor: '#000000',
    pointBorderWidth: 2.2
});

function drawRich(ctx, parts, size, draw) {
    var x = 0;
    parts.forEach(function(p) {
        var s = p.sub ? size * 0.7 : size;
        ctx.font = (p.it ? 'italic ' : '') + s + 'px ' + serifFont;
        if (draw) ctx.fillText(p.t, x, p.sub ? size * 0.2 : 0);
        x += ctx.measureText(p.t).width + (p.gap || 0);
    });
    return x;
}

var xTitle = [{t: 'log', it: 1, gap: 4}, {t: ' ('}, {t: 'T', it: 1}, {t: 'eff', sub: 1}, {t: ')', gap: 4}, {t: ' ['}, {t: 'K', it: 1, gap: 3}, {t: ']'}];
var yTitle = [{t: 'log', it: 1, gap: 4}, {t: ' ('}, {t: 'L', it: 1}, {t: 'tot', sub: 1, gap: 2}, {t: '/', gap: 2}, {t: 'L', it: 1}, {t: '\u2299', sub: 1, gap: 2}, {t: ')'}];

var framePlugin = {
    id: 'frame',
    afterDraw: function(chart) {
        var ctx = chart.ctx;
        var a = chart.chartArea;
        var xs = chart.scales.x, ys = chart.scales.y;
        ctx.save();
        ctx.strokeStyle = tickColor;
        ctx.lineWidth = 2;
        ctx.beginPath();
        for (var i = 0; i <= 47; i++) {
            var v = 3.40 + i * 0.01;
            var major = Math.abs(v * 20 - Math.round(v * 20)) < 1e-6;
            var len = major ? 21 : 11;
            var px = Math.round(xs.getPixelForValue(v)) + 0.5;
            ctx.moveTo(px, a.bottom); ctx.lineTo(px, a.bottom - len);
            ctx.moveTo(px, a.top); ctx.lineTo(px, a.top + len);
        }
        for (var j = 0; j <= 24; j++) {
            var w = -1.4 + j * 0.2;
            var maj = Math.abs(w - Math.round(w)) < 1e-6;
            var l2 = maj ? 21 : 11;
            var py = Math.round(ys.getPixelForValue(w)) + 0.5;
            ctx.moveTo(a.left, py); ctx.lineTo(a.left + l2, py);
            ctx.moveTo(a.right, py); ctx.lineTo(a.right - l2, py);
        }
        ctx.stroke();
        ctx.strokeRect(a.left, a.top, a.right - a.left, a.bottom - a.top);

        // series legend, top right
        ctx.font = '52px ' + sansFont;
        ctx.textAlign = 'left';
        ctx.textBaseline = 'alphabetic';
        for (var k = 0; k < 4; k++) {
            var ly = 121 + k * 67.4;
            ctx.fillStyle = modelColors[k];
            ctx.beginPath();
            ctx.arc(1765, ly, 4.2, 0, Math.PI * 2);
            ctx.fill();
            ctx.fillStyle = '#000';
            ctx.fillText(modelNames[k], 1839, ly + 20);
        }

        // age legend, bottom left
        ctx.font = '62px ' + sansFont;
        var rows = [1670, 1768, 1862];
        for (var r = 0; r < 3; r++) {
            var cy = rows[r];
            ctx.fillStyle = '#00ff00';
            ctx.strokeStyle = '#000';
            ctx.lineWidth = 2;
            if (r === 0) {
                starPath(ctx, 291, cy + 1, 14);
            } else if (r === 1) {
                ctx.beginPath();
                ctx.arc(291, cy, 12, 0, Math.PI * 2);
            } else {
                ctx.beginPath();
                ctx.moveTo(291, cy - 16);
                ctx.lineTo(291 + 14, cy + 9);
                ctx.lineTo(291 - 14, cy + 9);
                ctx.closePath();
            }
            ctx.fill();
            ctx.stroke();
            ctx.fillStyle = '#000';
            ctx.fillText(ageLabels[r], 376, 1698 + r * 96);
        }

        // axis titles
        ctx.fillStyle = tickColor;
        var size = 65;
        var wx = drawRich(ctx, xTitle, size, false);
        ctx.save();
        ctx.translate(1172 - wx / 2, 2113);
        drawRich(ctx, xTitle, size, true);
        ctx.restore();
        var wy = drawRich(ctx, yTitle, size, false);
        ctx.save();
        ctx.translate(101, 1008 + wy / 2);
        ctx.rotate(-Math.PI / 2);
        drawRich(ctx, yTitle, size, true);
        ctx.restore();
        ctx.restore();
    }
};

var ctx = document.getElementById('hrChart').getContext('2d');
var hrChart = new Chart(ctx, {
    type: 'scatter',
    data: {datasets: datasets},
    plugins: [framePlugin],
    options: {
        responsive: false,
        animation: false,
        devicePixelRatio: 1,
        events: [],
        layout: {padding: {top: 40, right: 64, bottom: 0, left: 0}},
        plugins: {
            legend: {display: false},
            tooltip: {enabled: false}
        },
        scales: {
            x: {
                type: 'linear',
                reverse: true,
                min: 3.40,
                max: 3.87,
                grid: {display: false, drawTicks: false},
                border: {display: false},
                afterBuildTicks: function(scale) {
                    scale.ticks = xTickValues.map(function(v) { return {value: v}; });
                },
                afterFit: function(scale) {
                    scale.height = 182;
                    scale.paddingLeft = 0;
                    scale.paddingRight = 0;
                },
                ticks: {
                    autoSkip: false,
                    maxRotation: 0,
                    padding: 31,
                    color: tickColor,
                    font: {family: sansFont, size: 56},
                    callback: function(value) {
                        var i = xTickValues.indexOf(Math.round(value * 100) / 100);
                        return i >= 0 ? xTickLabels[i] : '';
                    }
                }
            },
            y: {
                type: 'linear',
                min: -1.5,
                max: 3.5,
                grid: {display: false, drawTicks: false},
                border: {display: false},
                afterBuildTicks: function(scale) {
                    scale.ticks = yTickValues.map(function(v) { return {value: v}; });
                },
                afterFit: function(scale) {
                    scale.width = 208;
                    scale.paddingTop = 0;
                    scale.paddingBottom = 0;
                },
                ticks: {
                    autoSkip: false,
                    padding: 23,
                    color: tickColor,
                    font: {family: sansFont, size: 56},
                    callback: function(value) {
                        var i = yTickValues.indexOf(Math.round(value));
                        return i >= 0 ? yTickLabels[i] : '';
                    }
                }
            }
        }
    }
});
</script>
</body>
</html>
